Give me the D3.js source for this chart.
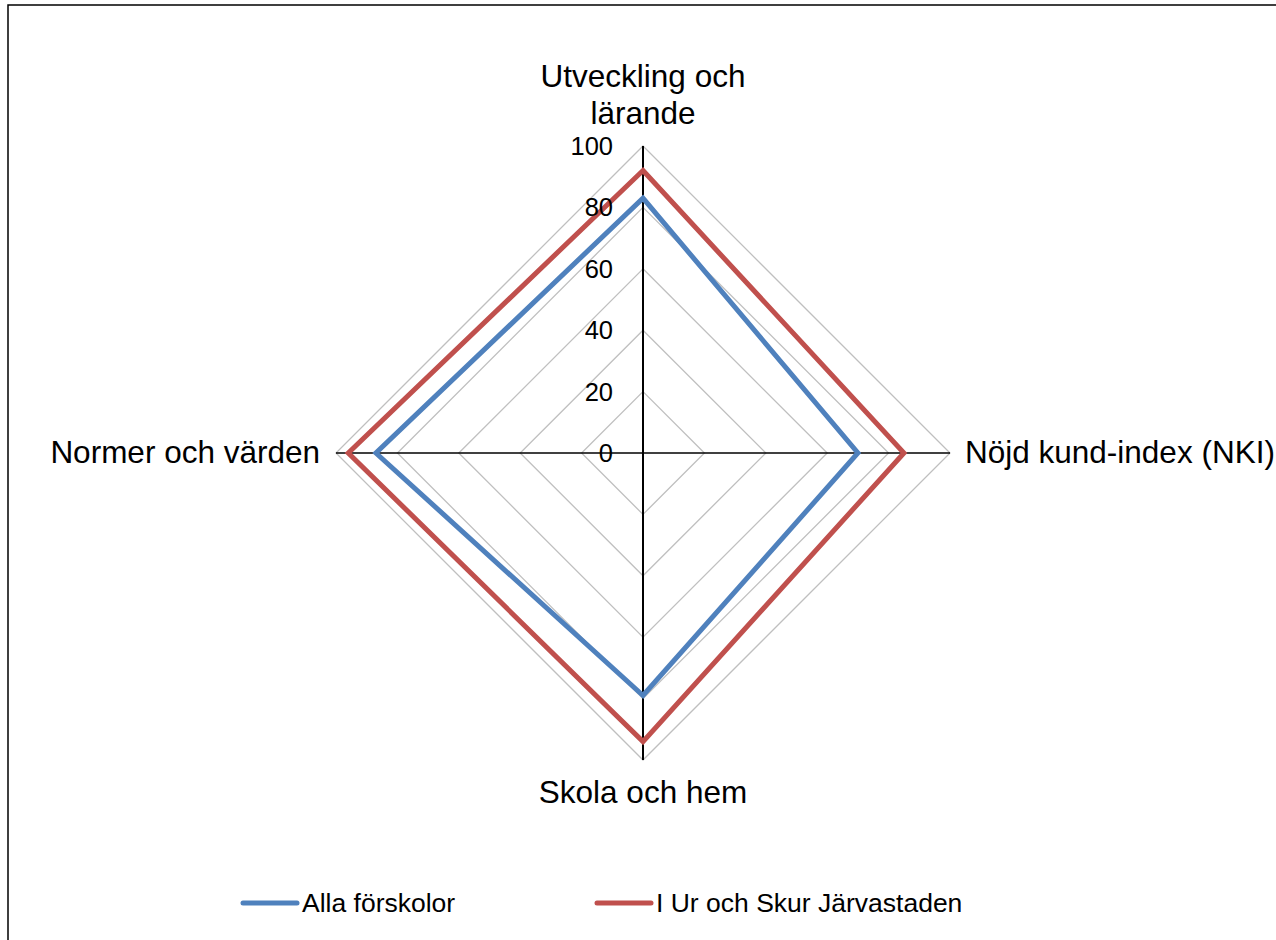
<!DOCTYPE html>
<html>
<head>
<meta charset="utf-8">
<script src="https://cdn.jsdelivr.net/npm/d3@7"></script>
<style>
  body { margin: 0; background: #fff; }
  svg { display: block; font-family: "Liberation Sans", Arial, sans-serif; }
</style>
</head>
<body>
<svg width="1276" height="940"></svg>
<script>
const categories = [["Utveckling och", "lärande"], ["Nöjd kund-index (NKI)"], ["Skola och hem"], ["Normer och värden"]];
const seriesNames = ["Alla förskolor", "I Ur och Skur Järvastaden"];
const allaValues = [83, 70, 79, 87];
const jarvaValues = [92, 85, 94, 96];
const ticks = [0, 20, 40, 60, 80, 100];
const colors = ["#4f81bd", "#c0504d"];

const svg = d3.select("svg");
const cx = 643, cy = 453;

const r = d3.scaleLinear().domain([0, 100]).range([0, 307]);
const angle = d3.scaleLinear().domain([0, categories.length]).range([0, 2 * Math.PI]);

// ram
svg.append("rect")
  .attr("x", 8).attr("y", 5)
  .attr("width", 1400).attr("height", 1100)
  .attr("fill", "none").attr("stroke", "#000").attr("stroke-width", 1.5);

const g = svg.append("g").attr("transform", `translate(${cx},${cy})`);

const radial = d3.lineRadial()
  .angle((d, i) => angle(i))
  .radius(d => r(d))
  .curve(d3.curveLinearClosed);

// rutnät
g.selectAll(".grid")
  .data(ticks.filter(t => t > 0))
  .enter().append("path")
  .attr("class", "grid")
  .attr("d", t => radial(categories.map(() => t)))
  .attr("fill", "none")
  .attr("stroke", "#bfbfbf")
  .attr("stroke-width", 1.3);

// axlar
g.selectAll(".spoke")
  .data(categories)
  .enter().append("line")
  .attr("class", "spoke")
  .attr("x1", 0).attr("y1", 0)
  .attr("x2", (d, i) => r(100) * Math.sin(angle(i)))
  .attr("y2", (d, i) => -r(100) * Math.cos(angle(i)))
  .attr("stroke", "#000")
  .attr("stroke-width", (d, i) => i % 2 === 0 ? 2 : 1.5);

// serier
[allaValues, jarvaValues].forEach((vals, k) => {
  g.append("path")
    .attr("d", radial(vals))
    .attr("fill", "none")
    .attr("stroke", colors[k])
    .attr("stroke-width", 5)
    .attr("stroke-linejoin", "miter");
});

// skalans etiketter
g.selectAll(".tick")
  .data(ticks)
  .enter().append("text")
  .attr("class", "tick")
  .attr("x", -30)
  .attr("y", t => -r(t))
  .attr("dy", "0.35em")
  .attr("text-anchor", "end")
  .attr("font-size", 25.5)
  .attr("fill", "#000")
  .text(t => t);

// kategorier
const labelPos = [
  { x: 0, y: -366, anchor: "middle" },
  { x: 322, y: 10, anchor: "start" },
  { x: 0, y: 350, anchor: "middle" },
  { x: -323, y: 10, anchor: "end" }
];
categories.forEach((lines, i) => {
  const p = labelPos[i];
  const t = g.append("text")
    .attr("x", p.x).attr("y", p.y)
    .attr("text-anchor", p.anchor)
    .attr("font-size", 31.5)
    .attr("fill", "#000");
  lines.forEach((line, j) => {
    t.append("tspan").attr("x", p.x).attr("dy", j === 0 ? 0 : 36.5).text(line);
  });
});

// teckenförklaring
const legendX = [243, 597];
seriesNames.forEach((name, k) => {
  const lg = svg.append("g").attr("transform", `translate(${legendX[k]},903)`);
  lg.append("line")
    .attr("x1", 0).attr("x2", 54)
    .attr("stroke", colors[k]).attr("stroke-width", 5)
    .attr("stroke-linecap", "round");
  lg.append("text")
    .attr("x", 59).attr("y", 0).attr("dy", "0.35em")
    .attr("font-size", 26.5)
    .attr("fill", "#000")
    .text(name);
});
</script>
</body>
</html>
